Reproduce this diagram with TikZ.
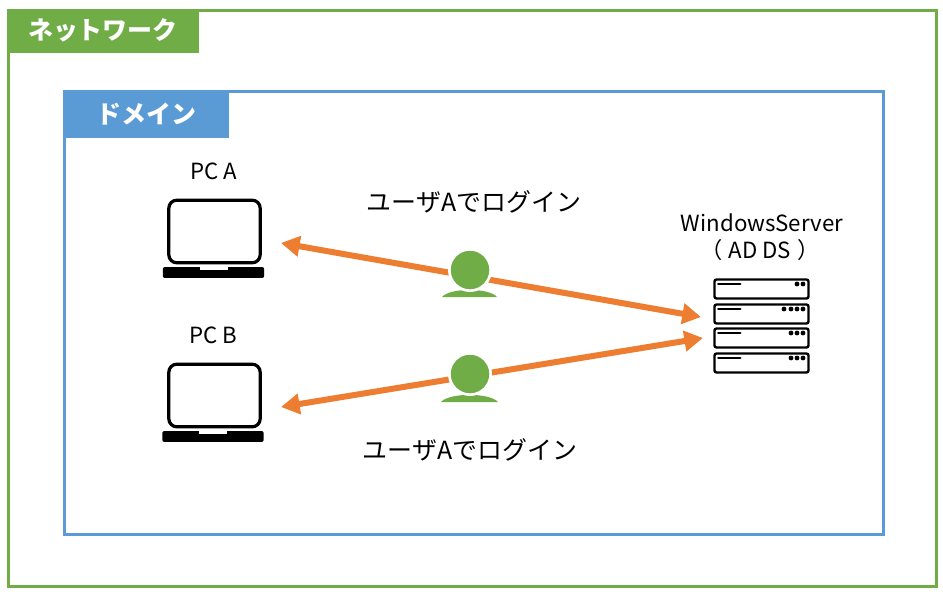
\documentclass[tikz,border=0pt]{standalone}
\usepackage{fontspec}
\setmainfont{Noto Sans CJK JP}
\usetikzlibrary{arrows.meta}
\definecolor{grn}{HTML}{70AD47}
\definecolor{blu}{HTML}{5B9BD5}
\definecolor{org}{HTML}{ED7D31}
\tikzset{
  x=0.75pt,y=-0.75pt,
  frame/.style={draw=#1,line width=2.25pt,fill=white},
  tag/.style={fill=#1,inner sep=0pt,text=white,font=\fontsize{18.7}{20}\selectfont\bfseries,minimum height=33pt,anchor=north west},
  lbl/.style={inner sep=0pt,font=\fontsize{18.7}{21}\selectfont,text=black},
  lblsmall/.style={inner sep=0pt,font=\fontsize{16.7}{20}\selectfont,text=black,align=center},
  screenbox/.style={draw=black,line width=2.4pt,rounded corners=6pt,fill=white,minimum width=68.5pt,minimum height=47pt,inner sep=0pt},
  basebox/.style={fill=black,rounded corners=1.5pt,minimum width=76pt,minimum height=8.2pt,inner sep=0pt},
  notch/.style={fill=white,minimum width=21pt,minimum height=2.2pt,inner sep=0pt,anchor=north},
  rowbox/.style={draw=black,line width=1.8pt,rounded corners=1.5pt,fill=white,minimum width=70.5pt,minimum height=14.2pt,inner sep=0pt},
  arrowline/.style={draw=org,line width=4.5pt,{Triangle[length=14pt,width=15pt]}-{Triangle[length=14pt,width=15pt]}},
  head/.style={circle,fill=grn,draw=white,line width=2pt,minimum size=31pt,inner sep=0pt},
  barline/.style={black,line width=1.9pt,line cap=round},
  led/.style={fill=black,circle,minimum size=3.6pt,inner sep=0pt},
}
\newcommand{\shoulder}[3]{% cx, half width, bottom y
  \fill[white] (#1-#2-3,#3+3) .. controls (#1-#2+4,#3-10) and (#1+#2-4,#3-10) .. (#1+#2+3,#3+3) -- cycle;
  \fill[grn] (#1-#2,#3) .. controls (#1-#2+8,#3-9.5) and (#1+#2-8,#3-9.5) .. (#1+#2,#3) -- cycle;
}
\begin{document}
\begin{tikzpicture}
\useasboundingbox (0,0) rectangle (943,596);
\fill[white] (0,0) rectangle (943,596);

\draw[frame=grn] (8.5,10) rectangle (936,586);
\node[tag=grn,minimum width=143.5pt] (nettag) at (7,8.5) {ネットワーク};
\draw[frame=blu] (64.5,91.5) rectangle (883.5,534);
\node[tag=blu,minimum width=124.5pt,minimum height=36pt] (domtag) at (63,90) {ドメイン};

% laptops
\node[screenbox] (scrA) at (214.5,231.5) {};
\node[basebox] (baseA) at (213.5,272.5) {};
\node[notch] (notchA) at (baseA.north) {};
\node[screenbox] (scrB) at (214.5,395.5) {};
\node[basebox] (baseB) at (213,436.5) {};
\node[notch] (notchB) at (baseB.north) {};
\node[lblsmall] (pcA) at (214,171) {PC A};
\node[lblsmall] (pcB) at (213,335) {PC B};

% server
\node[rowbox] (r1) at (761.5,289) {};
\node[rowbox] (r2) at (761.5,314) {};
\node[rowbox] (r3) at (761.5,338) {};
\node[rowbox] (r4) at (761.5,363) {};
\foreach \r in {1,2,3,4}{\draw[barline] ([shift={(5,-5)}]r\r.west) -- ([shift={(27,-5)}]r\r.west);}
\foreach \r/\d in {1/797,1/803,2/784,2/791,2/797,2/803,3/791,3/797,3/803,4/791,4/797,4/803}{
  \node[led] at (\d,{\ifnum\r=1 284\fi\ifnum\r=2 309\fi\ifnum\r=3 333\fi\ifnum\r=4 358\fi}) {};}
\node[lblsmall] (srv) at (762,237.5) {WindowsServer\\\hspace{-3pt}（\hspace{1pt} AD DS \hspace{1pt}）\hspace{-3pt}};

% connectors
\coordinate (tipA) at (281,243);
\coordinate (tipB) at (281,407);
\coordinate (tipS1) at (701,317);
\coordinate (tipS2) at (703,338);
\draw[arrowline] (tipA) -- (tipS1);
\draw[arrowline] (tipB) -- (tipS2);

% people
\shoulder{469.5}{27.5}{297}
\shoulder{469.5}{28.5}{402}
\node[head] (u1) at (470,270) {};
\node[head] (u2) at (470,374) {};

\node[lbl] (t1) at (474,202) {ユーザAでログイン};
\node[lbl] (t2) at (470,450) {ユーザAでログイン};
\end{tikzpicture}
\end{document}
